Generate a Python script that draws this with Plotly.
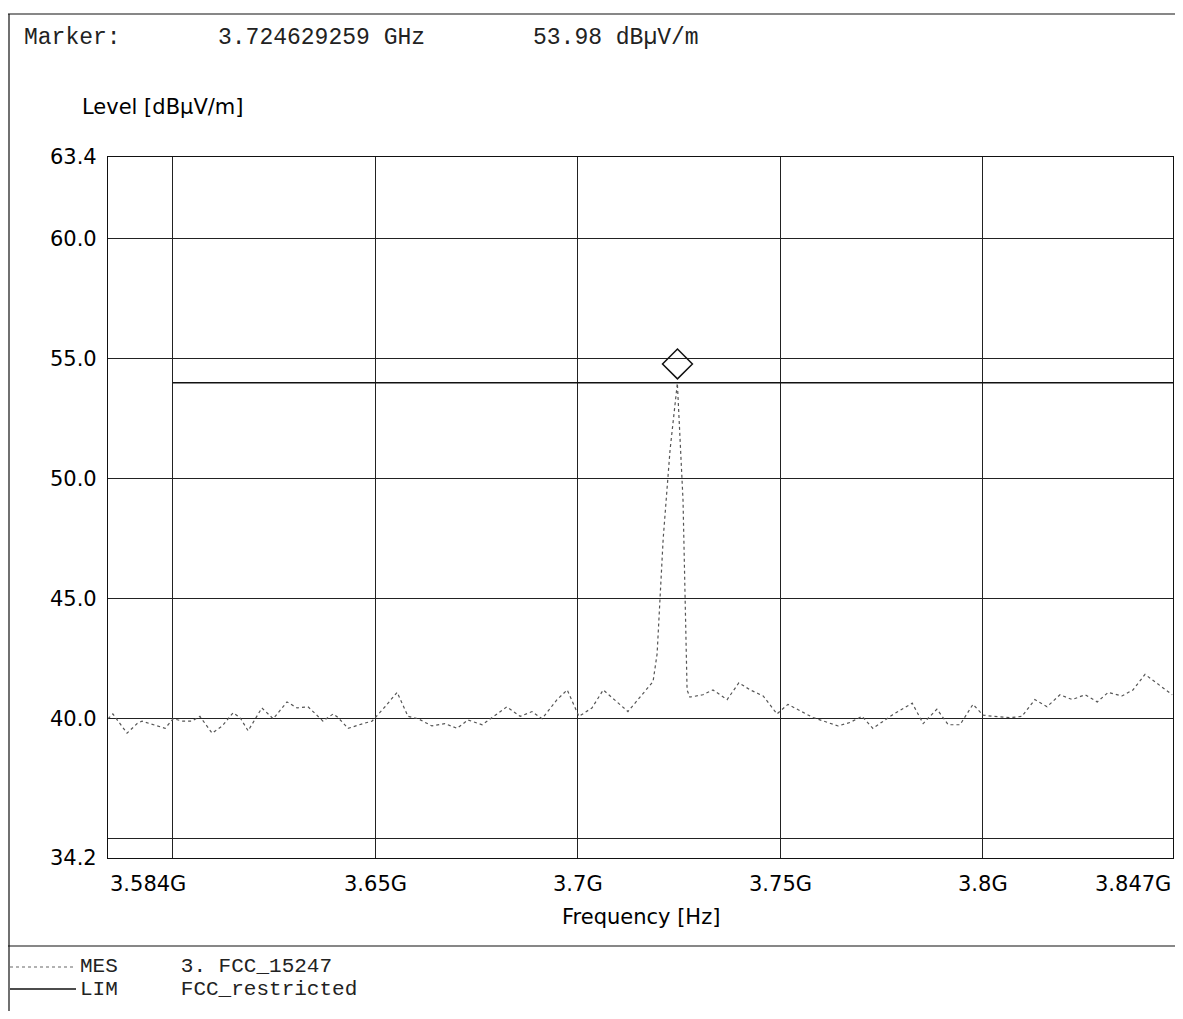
import plotly.graph_objects as go

# ---- data ----
mes_freq_ghz = [3.5840, 3.5852, 3.5887, 3.5912, 3.5924, 3.5981, 3.6001, 3.6025, 3.6047, 3.6067,
                3.6097, 3.6122, 3.6149, 3.6166, 3.6186, 3.6220, 3.6248, 3.6282, 3.6307, 3.6334,
                3.6371, 3.6396, 3.6408, 3.6433, 3.6470, 3.6492, 3.6524, 3.6554, 3.6581, 3.6606,
                3.6640, 3.6672, 3.6702, 3.6729, 3.6764, 3.6825, 3.6858, 3.6887, 3.6912, 3.6949,
                3.6974, 3.7003, 3.7035, 3.7063, 3.7124, 3.7186, 3.7196, 3.7211, 3.7228, 3.7246,
                3.7260, 3.7270, 3.7277, 3.7309, 3.7334, 3.7369, 3.7398, 3.7426, 3.7458, 3.7492,
                3.7519, 3.7581, 3.7643, 3.7673, 3.7702, 3.7729, 3.7776, 3.7826, 3.7853, 3.7887,
                3.7915, 3.7944, 3.7976, 3.8001, 3.8026, 3.8068, 3.8097, 3.8129, 3.8159, 3.8191,
                3.8221, 3.8253, 3.8283, 3.8310, 3.8344, 3.8371, 3.8401, 3.8438, 3.8468]
mes_level = [40.0, 40.2, 39.4, 39.8, 39.9, 39.6, 40.0, 39.9, 39.9, 40.1,
             39.4, 39.7, 40.25, 40.05, 39.5, 40.45, 40.0, 40.7, 40.45, 40.5,
             39.9, 40.2, 40.05, 39.6, 39.8, 39.9, 40.5, 41.1, 40.1, 40.0,
             39.7, 39.8, 39.6, 39.95, 39.75, 40.5, 40.1, 40.3, 40.0, 40.8,
             41.2, 40.1, 40.45, 41.2, 40.3, 41.55, 42.7, 47.5, 51.2, 53.98,
             49.1, 41.2, 40.9, 41.0, 41.2, 40.8, 41.5, 41.2, 40.95, 40.2,
             40.6, 40.05, 39.7, 39.85, 40.1, 39.6, 40.15, 40.65, 39.8, 40.4,
             39.75, 39.75, 40.6, 40.15, 40.1, 40.05, 40.1, 40.8, 40.5, 41.0,
             40.8, 41.0, 40.7, 41.1, 40.95, 41.2, 41.85, 41.4, 41.0]
lim_freq_ghz = [3.6, 3.847]
lim_level = [54.0, 54.0]

marker_freq_ghz = 3.724629259
marker_level = 53.98

y_tickvals = [34.2, 35, 40, 45, 50, 55, 60, 63.4]
y_ticktext = ["34.2", "", "40.0", "45.0", "50.0", "55.0", "60.0", "63.4"]
x_gridvals = [3.6, 3.65, 3.7, 3.75, 3.8]
x_labelvals = [3.584, 3.65, 3.7, 3.75, 3.8, 3.847]
x_labeltext = ["3.584G", "3.65G", "3.7G", "3.75G", "3.8G", "3.847G"]
x_labelanchor = ["left", "center", "center", "center", "center", "right"]

AX_FONT = dict(family="DejaVu Sans", size=21, color="black")
MONO = "Liberation Mono"

fig = go.Figure()
fig.add_trace(go.Scatter(x=mes_freq_ghz, y=mes_level, mode="lines",
                         line=dict(color="#555555", width=1.2, dash="dot"),
                         showlegend=False, hoverinfo="skip"))
fig.add_trace(go.Scatter(x=lim_freq_ghz, y=lim_level, mode="lines",
                         line=dict(color="#111111", width=1.5),
                         showlegend=False, hoverinfo="skip"))
# marker diamond sits just above the peak (bottom vertex at the peak)
fig.add_trace(go.Scatter(x=[marker_freq_ghz], y=[marker_level + 0.8], mode="markers",
                         marker=dict(symbol="diamond-open", size=23, color="#111111",
                                     line=dict(color="#111111", width=1.5)),
                         showlegend=False, hoverinfo="skip"))

fig.update_xaxes(range=[3.584, 3.847], tickvals=x_gridvals, showticklabels=False,
                 showgrid=True, gridcolor="#222222", gridwidth=1, zeroline=False,
                 showline=True, mirror=True, linecolor="#111111", linewidth=1.2, ticks="")
fig.update_yaxes(range=[34.2, 63.4], tickvals=y_tickvals, ticktext=y_ticktext,
                 tickfont=AX_FONT, showgrid=True, gridcolor="#222222", gridwidth=1,
                 zeroline=False, showline=True, mirror=True, linecolor="#111111",
                 linewidth=1.2, ticks="", ticklabelstandoff=6)

ann = []
for v, t, a in zip(x_labelvals, x_labeltext, x_labelanchor):
    ann.append(dict(x=v, y=0, xref="x", yref="paper", text=t, showarrow=False,
                    xanchor=a, yanchor="top", yshift=-12, font=AX_FONT))
ann.append(dict(x=0.5, y=0, xref="paper", yref="paper", text="Frequency [Hz]",
                showarrow=False, xanchor="center", yanchor="top", yshift=-45, font=AX_FONT))

# page-pixel helpers for paper coords (plot area spans 108..1173 x, 157..858 y on the page)
def px(p):
    return (p - 108) / 1065.0
def py(p):
    return (858 - p) / 701.0

ann.append(dict(x=px(80), y=py(107), xref="paper", yref="paper", text="Level [dBµV/m]",
                showarrow=False, xanchor="left", yanchor="middle", font=AX_FONT))
mono_hdr = dict(family=MONO, size=23, color="#222222")
ann.append(dict(x=px(22), y=py(38), xref="paper", yref="paper", text="Marker:",
                showarrow=False, xanchor="left", yanchor="middle", font=mono_hdr))
ann.append(dict(x=px(216), y=py(38), xref="paper", yref="paper", text="3.724629259 GHz",
                showarrow=False, xanchor="left", yanchor="middle", font=mono_hdr))
ann.append(dict(x=px(531), y=py(38), xref="paper", yref="paper", text="53.98 dBµV/m",
                showarrow=False, xanchor="left", yanchor="middle", font=mono_hdr))
mono_leg = dict(family=MONO, size=21, color="#222222")
ann.append(dict(x=px(78), y=py(967), xref="paper", yref="paper",
                text="MES&nbsp;&nbsp;&nbsp;&nbsp;&nbsp;3.&nbsp;FCC_15247",
                showarrow=False, xanchor="left", yanchor="middle", font=mono_leg))
ann.append(dict(x=px(78), y=py(989), xref="paper", yref="paper",
                text="LIM&nbsp;&nbsp;&nbsp;&nbsp;&nbsp;FCC_restricted",
                showarrow=False, xanchor="left", yanchor="middle", font=mono_leg))

shapes = [
    dict(type="line", xref="paper", yref="paper", x0=px(8), x1=px(1183), y0=py(14), y1=py(14),
         line=dict(color="#111111", width=1.2)),
    dict(type="line", xref="paper", yref="paper", x0=px(9), x1=px(9), y0=py(14), y1=py(1019),
         line=dict(color="#111111", width=1.2)),
    dict(type="line", xref="paper", yref="paper", x0=px(8), x1=px(1183), y0=py(946), y1=py(946),
         line=dict(color="#111111", width=1.2)),
    dict(type="line", xref="paper", yref="paper", x0=px(10), x1=px(76), y0=py(967), y1=py(967),
         line=dict(color="#666666", width=1.2, dash="dot")),
    dict(type="line", xref="paper", yref="paper", x0=px(10), x1=px(76), y0=py(989), y1=py(989),
         line=dict(color="#111111", width=1.5)),
]

# the page body has an 8px margin, so the figure is sized to fit the window exactly
fig.update_layout(width=1167, height=1003, margin=dict(l=100, r=2, t=149, b=153),
                  paper_bgcolor="white", plot_bgcolor="white",
                  annotations=ann, shapes=shapes, showlegend=False)

fig.write_html("out.html")
